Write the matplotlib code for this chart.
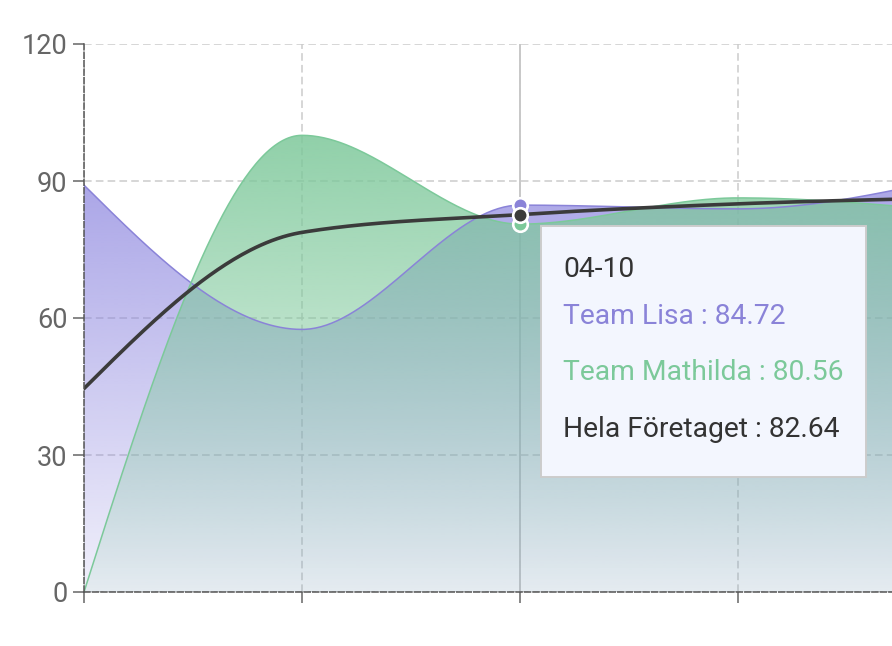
import numpy as np
import matplotlib
matplotlib.use('Agg')
import matplotlib.pyplot as plt
from matplotlib.patches import PathPatch, Rectangle
from matplotlib.path import Path

plt.rcParams['font.family'] = ['Roboto', 'DejaVu Sans']
plt.rcParams['lines.scale_dashes'] = False

# ---- data ----
dates = ['04-08', '04-09', '04-10', '04-11', '04-12']
lisa = [89.1, 57.5, 84.72, 83.9, 90.9]
mathilda = [0.0, 100.0, 80.56, 86.3, 83.3]
hela = [44.55, 78.75, 82.64, 85.0, 86.3]
y_ticks = [0, 30, 60, 90, 120]
tooltip_idx = 2
series_names = ['Team Lisa', 'Team Mathilda', 'Hela Företaget']

C_LISA = '#8a83d8'
C_MATH = '#7cc99a'
C_HELA = '#3b3b3b'


def monotone(xs, ys, n=80):
    x = np.asarray(xs, float)
    y = np.asarray(ys, float)
    h = np.diff(x)
    s = np.diff(y) / h
    m = np.zeros(len(x))
    for i in range(1, len(x) - 1):
        h0, h1 = h[i - 1], h[i]
        s0, s1 = s[i - 1], s[i]
        p = (s0 * h1 + s1 * h0) / (h0 + h1)
        m[i] = (np.sign(s0) + np.sign(s1)) * min(abs(s0), abs(s1), 0.5 * abs(p))
    m[0] = (3 * s[0] - m[1]) / 2
    m[-1] = (3 * s[-1] - m[-2]) / 2
    X, Y = [], []
    for i in range(len(x) - 1):
        t = np.linspace(0, 1, n, endpoint=(i == len(x) - 2))
        h00 = 2 * t**3 - 3 * t**2 + 1
        h10 = t**3 - 2 * t**2 + t
        h01 = -2 * t**3 + 3 * t**2
        h11 = t**3 - t**2
        X.append(x[i] + t * h[i])
        Y.append(h00 * y[i] + h10 * h[i] * m[i] + h01 * y[i + 1] + h11 * h[i] * m[i + 1])
    return np.concatenate(X), np.concatenate(Y)


def grad_fill(ax, xs, ys, rgb, a_top, a_bot, z):
    verts = np.column_stack([np.r_[xs, xs[-1], xs[0]], np.r_[ys, 0, 0]])
    patch = PathPatch(Path(verts), facecolor='none', edgecolor='none')
    ax.add_patch(patch)
    top = ys.max()
    n = 256
    img = np.zeros((n, 1, 4))
    img[..., 0] = rgb[0]
    img[..., 1] = rgb[1]
    img[..., 2] = rgb[2]
    img[..., 3] = np.linspace(a_top, a_bot, n)[:, None]
    im = ax.imshow(img, extent=[xs[0], xs[-1], 0, top], origin='upper',
                   aspect='auto', zorder=z, interpolation='bilinear')
    im.set_clip_path(patch)


W, H = 892, 646
fig = plt.figure(figsize=(W / 100, H / 100), dpi=100)
ax = fig.add_axes([84 / W, 54 / H, 808 / W, 548 / H])

xi = np.arange(len(dates))
lx, ly = monotone(xi, lisa)
mx, my = monotone(xi, mathilda)
hx, hy = monotone(xi, hela)

grad_fill(ax, lx, ly, (137 / 255, 130 / 255, 222 / 255), 0.72, 0.12, 1)
grad_fill(ax, mx, my, (125 / 255, 200 / 255, 154 / 255), 0.85, 0.10, 1.1)

ax.plot(lx, ly, color=C_LISA, lw=1.1, zorder=2)
ax.plot(mx, my, color=C_MATH, lw=1.1, zorder=2.1)
ax.plot(hx, hy, color=C_HELA, lw=2.6, zorder=2.2, solid_capstyle='round')

# axis pointer
ax.axvline(tooltip_idx, color='#c8c8c8', lw=1.4, zorder=0.8)

# highlighted markers
for vals, col, z in [(lisa, C_LISA, 3), (mathilda, C_MATH, 3.1), (hela, C_HELA, 3.2)]:
    ax.plot([tooltip_idx], [vals[tooltip_idx]], 'o', ms=10.5, mfc=col, mec='white',
            mew=1.9, zorder=z, clip_on=False)

ax.set_xlim(0, 808 / 218)
ax.set_ylim(0, 120)
ax.set_xticks(xi[:4])
ax.set_xticklabels([''] * 4)
ax.set_yticks(y_ticks)
ax.set_yticklabels([str(v) for v in y_ticks])
ax.tick_params(axis='x', length=8, width=1.1, color='#666666', direction='out')
ax.tick_params(axis='y', length=8, width=1.1, color='#666666', direction='out',
               pad=4, labelsize=19.5, labelcolor='#666666')
ax.set_axisbelow(True)
ax.grid(True, color='#cccccc', linestyle=(0, (5.5, 3)), linewidth=1.1, zorder=0.5)
for sp in ['top', 'right']:
    ax.spines[sp].set_visible(False)
for sp in ['left', 'bottom']:
    ax.spines[sp].set_linestyle((0, (4.3, 1.8)))
    ax.spines[sp].set_color('#555555')
    ax.spines[sp].set_linewidth(1.1)
    ax.spines[sp].set_zorder(2.5)

# tooltip
bx0, by0, bx1, by1 = 541, 226, 866, 477
fig.patches.append(Rectangle((bx0 / W, 1 - by1 / H), (bx1 - bx0) / W, (by1 - by0) / H,
                             transform=fig.transFigure, facecolor='#f3f6fe',
                             edgecolor='#cccccc', lw=1.4, zorder=10))
tx = 563 / W
lines = [
    (dates[tooltip_idx], '#333333', 277),
    (f'{series_names[0]} : {lisa[tooltip_idx]:.2f}', C_LISA, 324),
    (f'{series_names[1]} : {mathilda[tooltip_idx]:.2f}', C_MATH, 380),
    (f'{series_names[2]} : {hela[tooltip_idx]:.2f}', '#333333', 437),
]
for txt, col, base in lines:
    fig.text(tx, 1 - base / H, txt, color=col, fontsize=20.3, va='baseline',
             ha='left', zorder=11)

fig.savefig('out.png', dpi=100)
